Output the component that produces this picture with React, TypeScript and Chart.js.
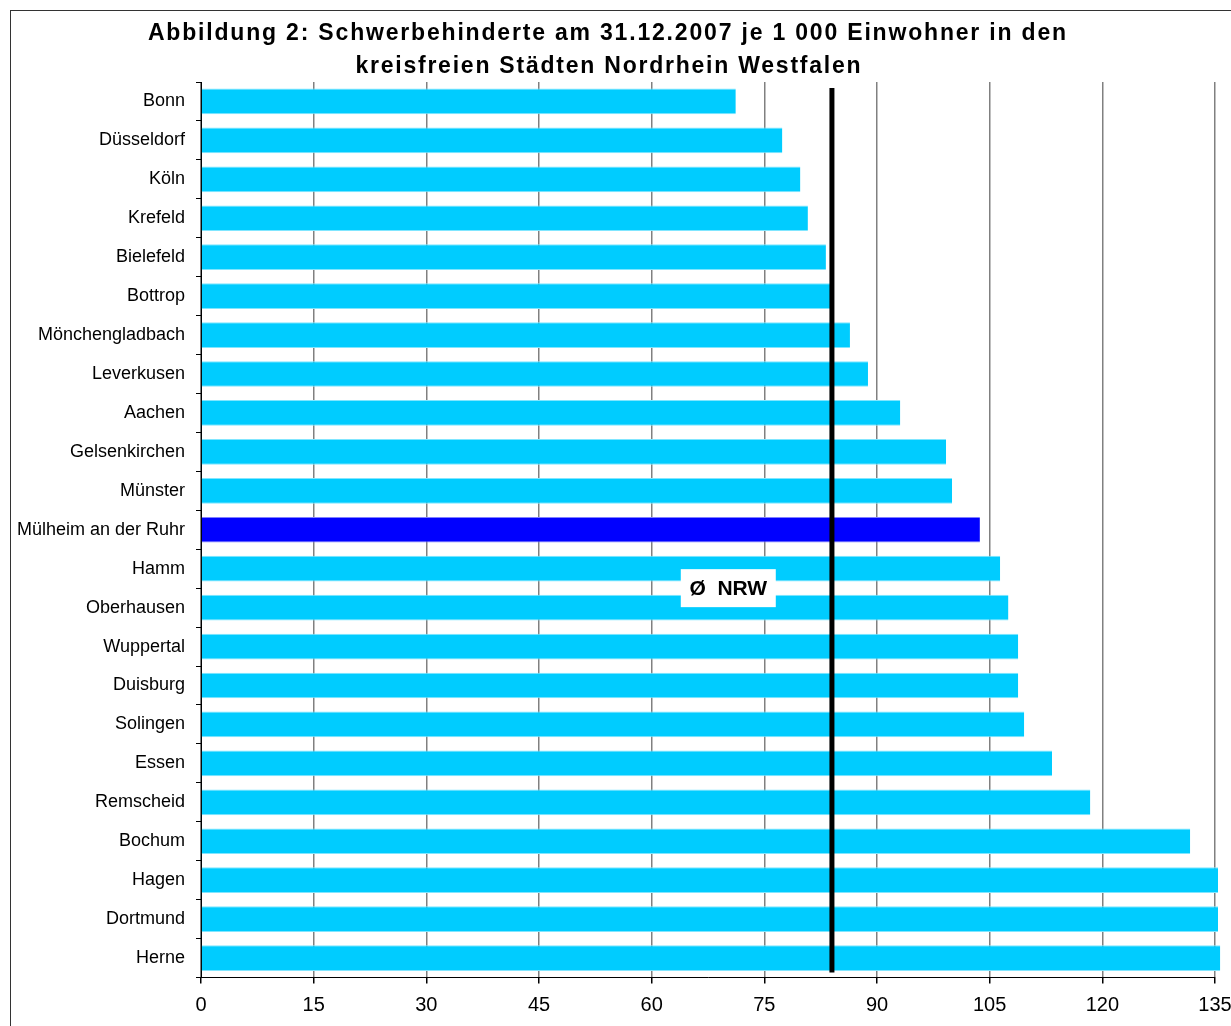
import React, { useEffect, useRef } from "react";
import { Chart, registerables } from "chart.js";

Chart.register(...registerables);

const TITLE_LINES = [
  "Abbildung 2: Schwerbehinderte am 31.12.2007 je 1 000 Einwohner in den",
  "kreisfreien Städten Nordrhein Westfalen",
];

const CITIES = [
  "Bonn",
  "Düsseldorf",
  "Köln",
  "Krefeld",
  "Bielefeld",
  "Bottrop",
  "Mönchengladbach",
  "Leverkusen",
  "Aachen",
  "Gelsenkirchen",
  "Münster",
  "Mülheim an der Ruhr",
  "Hamm",
  "Oberhausen",
  "Wuppertal",
  "Duisburg",
  "Solingen",
  "Essen",
  "Remscheid",
  "Bochum",
  "Hagen",
  "Dortmund",
  "Herne",
];

const VALUES = [
  71.2, 77.4, 79.8, 80.8, 83.2, 83.8, 86.4, 88.8, 93.1, 99.2, 100.0, 103.7,
  106.4, 107.5, 108.8, 108.8, 109.6, 113.3, 118.4, 131.7, 135.4, 135.4, 135.7,
];

const HIGHLIGHT = "Mülheim an der Ruhr";
const NRW_AVG = 84.0;
const NRW_LABEL = "Ø  NRW";
const NRW_LABEL_VALUE = 70.2;
const X_TICKS = [0, 15, 30, 45, 60, 75, 90, 105, 120, 135];

const FONT = '"Liberation Sans", Arial, sans-serif';

export default function App() {
  const ref = useRef<HTMLCanvasElement | null>(null);

  useEffect(() => {
    const canvas = ref.current;
    if (!canvas) return;

    const drawSpaced = (ctx: any, text: string, cx: number, y: number, target: number) => {
      ctx.letterSpacing = "0px";
      const w = ctx.measureText(text).width;
      const ls = Math.max(0, (target - w) / text.length);
      ctx.letterSpacing = `${ls}px`;
      ctx.fillText(text, cx + ls / 2, y);
      ctx.letterSpacing = "0px";
    };

    const decor = {
      id: "decor",
      beforeDraw(chart: any) {
        const ctx = chart.ctx;
        ctx.save();
        ctx.fillStyle = "#ffffff";
        ctx.fillRect(0, 0, chart.width, chart.height);
        ctx.strokeStyle = "#333333";
        ctx.lineWidth = 1;
        ctx.strokeRect(10.5, 10.5, chart.width + 20, chart.height + 20);
        ctx.fillStyle = "#000000";
        ctx.font = `bold 23px ${FONT}`;
        ctx.textAlign = "center";
        ctx.textBaseline = "alphabetic";
        drawSpaced(ctx, TITLE_LINES[0], 607, 40, 920);
        drawSpaced(ctx, TITLE_LINES[1], 608, 73, 507);
        ctx.restore();
      },
      afterDatasetsDraw(chart: any) {
        const ctx = chart.ctx;
        const xs = chart.scales.x;
        const ys = chart.scales.y;
        const area = chart.chartArea;
        ctx.save();
        const lx = xs.getPixelForValue(NRW_AVG);
        ctx.strokeStyle = "#000000";
        ctx.lineWidth = 5;
        ctx.beginPath();
        ctx.moveTo(lx, area.top + 6);
        ctx.lineTo(lx, area.bottom - 5);
        ctx.stroke();

        const cx = xs.getPixelForValue(NRW_LABEL_VALUE);
        const cy = (ys.getPixelForValue(12) + ys.getPixelForValue(13)) / 2;
        const bw = 95;
        const bh = 38;
        ctx.fillStyle = "#ffffff";
        ctx.fillRect(cx - bw / 2, cy - bh / 2, bw, bh);
        ctx.fillStyle = "#000000";
        ctx.font = `bold 21px ${FONT}`;
        ctx.textAlign = "center";
        ctx.textBaseline = "middle";
        ctx.fillText(NRW_LABEL, cx, cy + 1);
        ctx.restore();
      },
    };

    const chart = new Chart(canvas, {
      type: "bar",
      data: {
        labels: CITIES,
        datasets: [
          {
            data: VALUES,
            backgroundColor: CITIES.map((c) => (c === HIGHLIGHT ? "#0000FF" : "#00CCFF")),
            borderColor: CITIES.map((c) => (c === HIGHLIGHT ? "#8080FF" : "#80E6FF")),
            borderWidth: { top: 1, bottom: 1, left: 0, right: 0 },
            borderSkipped: false,
            barPercentage: 0.66,
            categoryPercentage: 1,
            clip: false,
          } as any,
        ],
      },
      options: {
        indexAxis: "y",
        responsive: false,
        animation: false,
        devicePixelRatio: 1,
        layout: { padding: { top: 82, right: 35, left: 0, bottom: 0 } },
        plugins: {
          legend: { display: false },
          title: { display: false },
          tooltip: { enabled: false },
        },
        scales: {
          x: {
            min: 0,
            max: 135,
            afterBuildTicks: (s: any) => {
              s.ticks = X_TICKS.map((v) => ({ value: v }));
            },
            afterFit: (s: any) => {
              s.height = 1040 - 977.5;
            },
            grid: {
              color: "#808080",
              lineWidth: 1.5,
              tickColor: "#000000",
              tickLength: 6,
              drawOnChartArea: true,
            },
            border: { color: "#000000", width: 1 },
            ticks: {
              color: "#000000",
              font: { family: FONT, size: 20 },
              padding: 10,
              maxRotation: 0,
              autoSkip: false,
            },
          },
          y: {
            z: 1,
            afterFit: (s: any) => {
              s.width = 201;
            },
            grid: {
              offset: true,
              drawOnChartArea: false,
              color: "#000000",
              tickColor: "#000000",
              tickLength: 5,
            },
            border: { color: "#000000", width: 1 },
            ticks: {
              color: "#000000",
              font: { family: FONT, size: 18 },
              padding: 11,
              autoSkip: false,
            },
          },
        },
      },
      plugins: [decor],
    });

    return () => chart.destroy();
  }, []);

  return (
    <div
      style={{
        position: "absolute",
        left: 0,
        top: 0,
        width: 1231,
        height: 1026,
        overflow: "hidden",
        background: "#ffffff",
      }}
    >
      <canvas ref={ref} width={1250} height={1040} style={{ display: "block" }} />
    </div>
  );
}
